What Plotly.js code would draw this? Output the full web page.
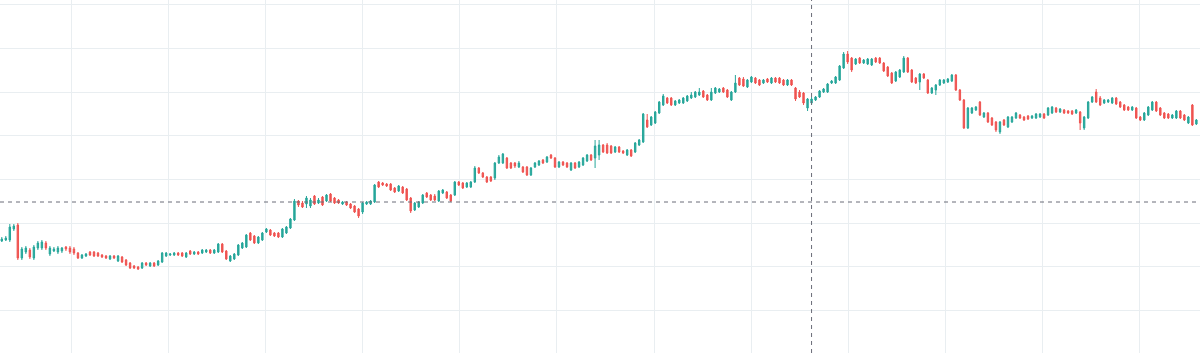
<!DOCTYPE html>
<html><head><meta charset="utf-8">
<script src="https://cdn.plot.ly/plotly-3.0.1.min.js"></script>
<style>html,body{margin:0;padding:0;background:#fff;overflow:hidden;} #chart{width:1200px;height:353px;}</style>
</head><body><div id="chart"></div>
<script>
const openPrices = [
159,160,160,171,175,142,148,150,142,152,
152,157,146,149,148,149,153,152,151,147,
142,144,148,148,147,145,144,141,144,139,
143,140,137,134,133,132,137,134,137,135,
138,144,145,145,147,147,143,149,146,148,
147,148,150,147,148,156,149,139,141,145,
152,153,167,164,157,160,168,170,167,167,
163,167,172,180,199,197,196,194,204,197,
203,199,206,202,200,196,198,196,194,191,
188,196,196,198,218,217,216,216,212,209,
213,211,202,190,193,197,207,205,204,199,
207,208,205,205,218,217,213,213,218,232,
227,223,223,222,237,237,242,237,237,233,
233,233,225,233,235,240,238,245,242,233,
238,237,230,237,233,235,239,245,242,245,
255,255,254,248,253,249,245,250,248,255,
258,280,275,277,287,295,302,302,295,297,
297,299,302,303,305,309,305,300,307,308,
312,310,300,308,322,321,313,318,322,320,
317,321,317,322,322,320,315,320,312,308,
307,292,297,300,303,308,308,317,317,320,
332,346,342,336,342,337,336,335,342,342,
337,333,327,319,323,328,342,330,322,318,
326,320,307,310,315,317,318,319,325,310,
300,272,287,290,298,283,287,282,278,268,
280,273,278,282,285,283,284,282,282,283,
286,285,287,292,288,290,289,289,287,288,
272,282,298,308,302,297,298,297,302,298,
295,293,290,292,283,280,285,290,298,292,
287,286,282,282,289,285,277,295,276
];
const closePrices = [
161,162,173,174,142,151,152,143,153,157,
158,152,152,151,152,152,151,148,147,142,
145,146,145,144,144,143,142,144,142,144,
138,135,132,132,131,137,135,137,134,139,
147,147,146,147,145,144,147,146,148,146,
150,150,147,150,156,148,141,144,146,155,
157,165,160,157,163,167,171,165,164,163,
171,173,181,199,195,193,202,200,196,200,
195,205,199,197,197,198,195,192,188,184,
197,198,199,215,213,215,214,210,208,214,
207,200,189,197,198,205,203,200,200,209,
210,202,199,218,215,212,217,218,232,227,
223,218,219,237,243,246,232,232,234,237,
228,225,232,237,239,237,243,242,233,238,
235,233,237,232,238,242,245,240,254,255,
248,247,247,253,248,247,250,244,257,260,
286,273,283,288,298,304,297,295,299,300,
302,304,305,308,308,303,300,308,312,311,
308,303,308,317,315,314,320,323,317,315,
320,318,322,318,317,315,320,315,301,303,
297,301,301,303,309,311,316,319,323,334,
346,338,330,341,337,340,341,341,338,337,
329,324,317,328,330,342,328,318,317,326,
322,307,312,315,320,320,321,325,310,300,
272,292,292,293,285,287,278,275,270,278,
275,283,283,287,282,280,281,284,286,286,
282,292,293,288,291,287,287,286,290,277,
283,298,303,298,295,300,300,302,296,293,
290,290,293,282,280,287,293,298,289,285,
282,282,285,289,282,280,283,275,280
];
const highPrices = [
163,164,176,176,177,153,154,152,155,159,
160,159,154,153,154,153,154,154,153,148,
146,147,149,149,148,146,145,145,145,145,
144,141,138,135,134,138,138,138,138,140,
148,148,147,148,148,148,148,150,149,149,
151,151,151,151,157,157,150,145,147,156,
158,166,168,165,164,168,172,171,168,168,
172,174,182,201,200,199,204,202,205,202,
204,206,207,203,201,199,199,197,195,192,
198,199,200,216,219,218,217,217,213,215,
214,212,203,198,199,206,208,206,206,210,
211,209,206,219,219,218,218,219,234,233,
228,224,224,238,245,247,243,238,238,239,
234,234,233,238,240,241,244,246,243,239,
239,238,238,238,239,243,246,246,260,260,
256,257,255,254,254,250,251,251,258,261,
287,286,284,289,299,306,303,303,300,301,
303,305,308,309,312,310,306,312,313,312,
313,311,309,325,323,323,321,324,323,321,
321,322,323,323,323,321,321,321,313,310,
308,302,303,304,310,312,317,320,324,335,
348,349,343,342,343,341,342,342,343,343,
338,334,328,329,331,344,343,331,323,327,
327,321,313,316,321,321,322,326,326,311,
301,293,293,294,299,288,288,283,279,279,
281,284,284,288,286,284,285,285,287,287,
287,293,294,293,292,291,290,290,291,289,
284,299,304,311,304,301,301,303,303,299,
296,294,294,293,284,288,294,299,299,293,
288,287,286,290,290,286,284,296,281
];
const lowPrices = [
158,159,158,169,140,140,146,141,140,150,
150,150,144,148,146,147,149,146,145,141,
141,143,144,143,143,142,141,140,141,138,
137,134,131,131,130,131,134,133,133,134,
137,143,144,144,144,143,142,145,145,145,
146,147,146,146,147,147,140,138,140,144,
151,152,159,156,156,159,167,164,163,162,
162,166,171,179,193,192,192,192,195,196,
194,198,198,196,196,195,194,191,187,182,
186,195,195,197,212,214,213,209,207,208,
206,199,187,189,192,196,202,199,199,198,
206,201,198,204,214,211,212,212,217,226,
222,217,218,220,236,236,231,231,232,232,
227,224,224,232,234,236,237,241,232,232,
234,232,229,231,232,234,238,239,232,240,
247,246,246,247,247,246,244,243,247,254,
257,272,274,276,286,294,296,294,294,296,
296,298,301,302,304,302,299,299,306,307,
307,302,299,307,314,313,312,317,316,314,
316,317,316,317,316,314,314,314,299,302,
295,289,295,299,302,307,307,316,316,319,
331,336,328,335,336,336,335,334,337,336,
328,323,316,318,322,327,327,317,316,310,
321,306,306,305,314,316,317,318,309,299,
271,271,286,289,284,282,277,274,268,266,
274,272,277,281,281,279,280,281,281,282,
281,284,286,287,287,286,286,285,286,270,
270,281,297,297,294,296,297,296,295,292,
289,289,289,281,279,279,284,289,288,284,
281,281,281,281,281,279,276,274,275
];
const barIndex = openPrices.map((_, i) => i);
const crosshairIndex = 202;
const crosshairPrice = 198;

const trace = {
  type: 'candlestick',
  x: barIndex,
  open: openPrices, high: highPrices, low: lowPrices, close: closePrices,
  increasing: {line: {color: '#26a69a', width: 1}, fillcolor: '#26a69a'},
  decreasing: {line: {color: '#ef5350', width: 1}, fillcolor: '#ef5350'},
  whiskerwidth: 0,
  hoverinfo: 'skip'
};
const gridColor = '#e9eef1';
const layout = {
  width: 1200, height: 353,
  margin: {l: 0, r: 0, t: 0, b: 0, pad: 0},
  paper_bgcolor: '#ffffff', plot_bgcolor: '#ffffff',
  showlegend: false,
  boxgap: 0.5,
  xaxis: {range: [-0.45, 298.9], rangeslider: {visible: false}, tickmode: 'linear', tick0: 17.44, dtick: 24.21,
          showgrid: true, gridcolor: gridColor, gridwidth: 1, showticklabels: false, ticks: '', zeroline: false, showline: false},
  yaxis: {range: [47, 400], tickmode: 'linear', tick0: 177, dtick: 43.65,
          showgrid: true, gridcolor: gridColor, gridwidth: 1, showticklabels: false, ticks: '', zeroline: false, showline: false},
  shapes: [
    {type: 'line', xref: 'x', yref: 'paper', x0: crosshairIndex, x1: crosshairIndex, y0: 0, y1: 1,
     line: {color: '#6a6d78', width: 1, dash: '4px,4px'}},
    {type: 'line', xref: 'paper', yref: 'y', x0: 0, x1: 1, y0: crosshairPrice, y1: crosshairPrice,
     line: {color: '#6a6d78', width: 1, dash: '4px,4px'}}
  ]
};
Plotly.newPlot('chart', [trace], layout, {staticPlot: true, displayModeBar: false});
</script>
</body></html>
